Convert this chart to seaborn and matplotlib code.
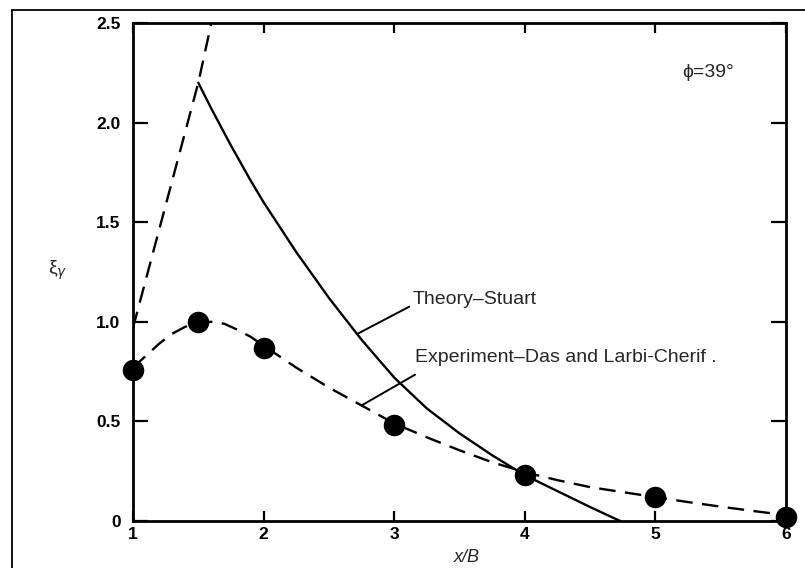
import matplotlib
matplotlib.use("Agg")
import matplotlib.pyplot as plt
from matplotlib.lines import Line2D
import seaborn as sns
import pandas as pd

# Measured bearing-capacity ratio (Das and Larbi-Cherif)
exp_x = [1.0, 1.5, 2.0, 3.0, 4.0, 5.0, 6.0]
exp_y = [0.76, 1.0, 0.87, 0.48, 0.23, 0.12, 0.02]

# Faired curve drawn through the measurements
fit_x = [1.0, 1.1, 1.2, 1.3, 1.4, 1.5, 1.6, 1.7, 1.8, 1.9, 2.0, 2.25, 2.5, 2.75,
         3.0, 3.25, 3.5, 3.75, 4.0, 4.25, 4.5, 4.75, 5.0, 5.25, 5.5, 5.75, 6.0]
fit_y = [0.77, 0.83, 0.89, 0.94, 0.975, 0.995, 1.0, 0.99, 0.96, 0.925, 0.88, 0.77,
         0.67, 0.58, 0.49, 0.42, 0.355, 0.295, 0.245, 0.205, 0.17, 0.145, 0.12,
         0.095, 0.072, 0.05, 0.03]

# Stuart's theory
th_x = [1.5, 1.6, 1.75, 1.9, 2.0, 2.25, 2.5, 2.75, 3.0, 3.25, 3.5, 3.75, 4.0,
        4.25, 4.5, 4.73]
th_y = [2.2, 2.07, 1.885, 1.71, 1.6, 1.35, 1.12, 0.91, 0.72, 0.565, 0.44, 0.33,
        0.23, 0.15, 0.07, 0.0]

# Theory branch for close spacing
close_x = [1.0, 1.5, 1.6]
close_y = [0.97, 2.2, 2.5]

x_ticks = [1, 2, 3, 4, 5, 6]
y_ticks = [0, 0.5, 1.0, 1.5, 2.0, 2.5]
y_ticklabels = ["0", "0.5", "1.0", "1.5", "2.0", "2.5"]

sns.set_theme(style="white")
plt.rcParams["font.family"] = ["Liberation Sans", "DejaVu Sans"]

W, H = 805, 568
fig = plt.figure(figsize=(W / 100, H / 100), dpi=100)
ax = fig.add_axes([133 / W, 1 - 521 / H, (786 - 133) / W, (521 - 23) / H])

exp_df = pd.DataFrame({"x": exp_x, "y": exp_y})
fit_df = pd.DataFrame({"x": fit_x, "y": fit_y})
th_df = pd.DataFrame({"x": th_x, "y": th_y})
close_df = pd.DataFrame({"x": close_x, "y": close_y})

sns.lineplot(data=fit_df, x="x", y="y", ax=ax, color="black", lw=1.7,
             sort=False, estimator=None)
ax.lines[-1].set_dashes([7, 4])
sns.lineplot(data=th_df, x="x", y="y", ax=ax, color="black", lw=1.7,
             sort=False, estimator=None)
sns.lineplot(data=close_df, x="x", y="y", ax=ax, color="black", lw=1.7,
             sort=False, estimator=None)
ax.lines[-1].set_dashes([7, 4])
sns.scatterplot(data=exp_df, x="x", y="y", ax=ax, color="black", s=240,
                edgecolor="black", linewidth=0, zorder=5, clip_on=False)

ax.set_xlim(1, 6)
ax.set_ylim(0, 2.5)
ax.set_xticks(x_ticks)
ax.set_xticklabels([str(t) for t in x_ticks], fontsize=12.5, fontweight="bold")
ax.set_yticks(y_ticks)
ax.set_yticklabels(y_ticklabels, fontsize=12.5, fontweight="bold")
ax.tick_params(axis="x", direction="in", length=7, width=1.6, pad=4,
               top=True, bottom=True, colors="black")
ax.tick_params(axis="y", direction="in", length=11, width=1.6, pad=9,
               left=True, right=True, colors="black")
for sp in ax.spines.values():
    sp.set_color("black")
    sp.set_linewidth(2.0)

ax.set_xlabel("")
ax.set_ylabel("")
fig.text(467 / W, 1 - 558 / H, "x/B", ha="center", va="center",
         fontsize=13, fontstyle="italic")
fig.text(58 / W, 1 - 270 / H, "\u03be$_{\\gamma}$", ha="center", va="center",
         fontsize=14)

ax.text(5.4, 2.25, "\u03d5=39\u00b0", ha="center", va="center", fontsize=14)

ax.annotate("Theory\u2013Stuart", xy=(2.72, 0.94), xytext=(3.14, 1.11),
            ha="left", va="center", fontsize=14,
            arrowprops=dict(arrowstyle="-", color="black", lw=1.4,
                            shrinkA=0, shrinkB=0, relpos=(0, 0.2)))
ax.annotate("Experiment\u2013Das and Larbi-Cherif .", xy=(2.75, 0.58),
            xytext=(3.16, 0.82), ha="left", va="center", fontsize=14,
            arrowprops=dict(arrowstyle="-", color="black", lw=1.4,
                            shrinkA=0, shrinkB=0, relpos=(0, -0.5)))

# Outer frame of the figure panel
fig.add_artist(Line2D([12 / W, 12 / W], [0, 1 - 10 / H], transform=fig.transFigure,
                      color="black", lw=1.3))
fig.add_artist(Line2D([12 / W, 1], [1 - 10 / H, 1 - 10 / H], transform=fig.transFigure,
                      color="black", lw=1.3))

fig.savefig("out.png", dpi=100, facecolor="white")
